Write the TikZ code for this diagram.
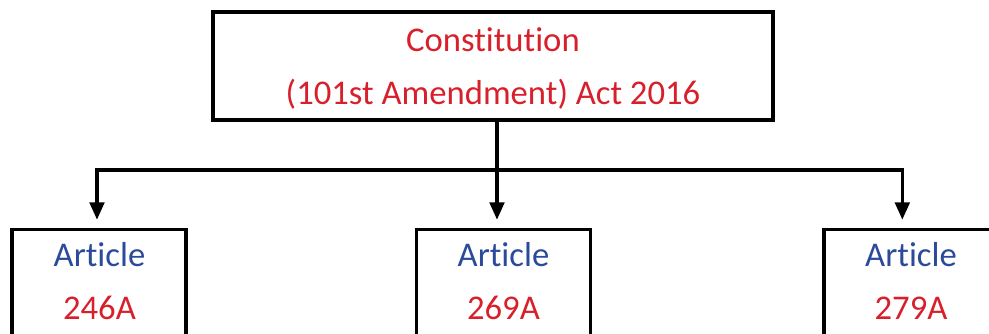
\documentclass[tikz,border=0pt]{standalone}
\usepackage{fontspec}
\setmainfont[Ligatures=NoCommon]{Carlito}
\usetikzlibrary{arrows.meta,calc}
\definecolor{tred}{RGB}{216,32,44}
\definecolor{tblue}{RGB}{43,74,154}
\tikzset{
  boxstyle/.style={draw=black, line width=2.3pt, rectangle, inner sep=0pt},
  conn/.style={line width=2.3pt, draw=black},
  arr/.style={conn, -{Triangle[length=13pt,width=11pt]}},
  redtxt/.style={text=tred, font=\fontsize{26}{30}\selectfont, anchor=base, inner sep=0pt},
  bluetxt/.style={text=tblue, font=\fontsize{26}{30}\selectfont, anchor=base, inner sep=0pt}
}
\begin{document}
\begin{tikzpicture}
\useasboundingbox (0,0) rectangle (741.75pt,-250.5pt);
% top box
\node[boxstyle, minimum width=420pt, minimum height=81pt] (top) at (369.75pt,-49.5pt) {};
\node[redtxt] (t1) at (369.75pt,-38.75pt) {Constitution};
\node[redtxt] (t2) at (369.75pt,-78.75pt) {(101st Amendment) Act 2016};
% bottom boxes
\node[boxstyle, minimum width=130.5pt, minimum height=128pt] (b1) at (74.25pt,-235.9pt) {};
\node[boxstyle, minimum width=131pt, minimum height=128pt] (b2) at (377.6pt,-235.9pt) {};
\node[boxstyle, minimum width=131pt, minimum height=128pt] (b3) at (683.5pt,-235.9pt) {};
\node[bluetxt] (a1) at (74.6pt,-200pt) {Article};
\node[redtxt] (n1) at (74.6pt,-240pt) {246A};
\node[bluetxt] (a2) at (377.6pt,-200pt) {Article};
\node[redtxt] (n2) at (377.6pt,-240pt) {269A};
\node[bluetxt] (a3) at (683.25pt,-200pt) {Article};
\node[redtxt] (n3) at (683.25pt,-240pt) {279A};
% connectors
\coordinate (hl) at (0,-127.5pt);
\coordinate (e1) at ([xshift=-1.5pt, yshift=6pt]b1.north);
\coordinate (e2) at ([xshift=-4.85pt, yshift=6pt]b2.north);
\coordinate (e3) at ([xshift=-6.75pt, yshift=6pt]b3.north);
\draw[conn] (top.south -| e2) -- (e2 |- hl);
\draw[conn, line cap=rect] (e1 |- hl) -- (e3 |- hl);
\draw[arr] (e1 |- hl) -- (e1);
\draw[arr] (e2 |- hl) -- (e2);
\draw[arr] (e3 |- hl) -- (e3);
\end{tikzpicture}
\end{document}
